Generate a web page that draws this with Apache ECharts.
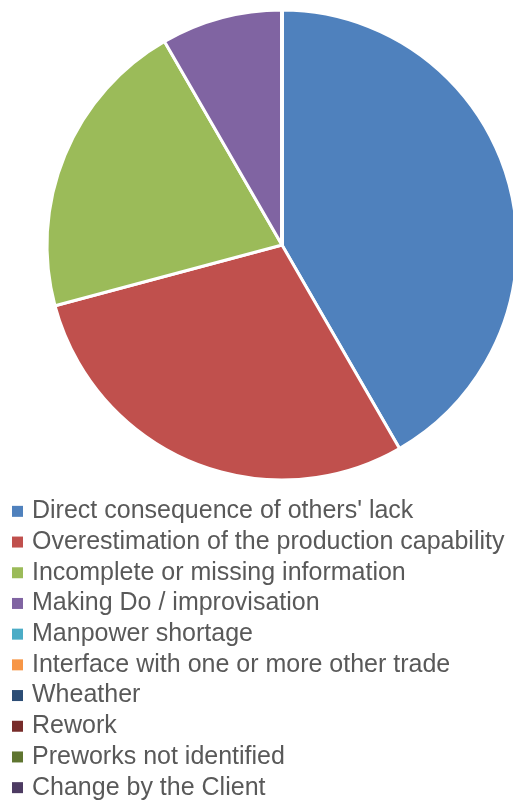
<!DOCTYPE html>
<html><head><meta charset="utf-8">
<script src="https://cdn.jsdelivr.net/npm/echarts@6/dist/echarts.min.js"></script>
<style>html,body{margin:0;padding:0;background:#fff}#c{width:513px;height:803px}</style>
</head><body><div id="c"></div>
<script>
var categories = ["Direct consequence of others' lack","Overestimation of the production capability","Incomplete or missing information","Making Do / improvisation","Manpower shortage","Interface with one or more other trade","Wheather","Rework","Preworks not identified","Change by the Client"];
var values = [10, 7, 5, 2, 0, 0, 0, 0, 0, 0];
var colors = ["#4F81BD","#C0504D","#9BBB59","#8064A2","#4BACC6","#F79646","#2C4D75","#772C2A","#5F7530","#4D3B62"];
var chart = echarts.init(document.getElementById('c'));
chart.setOption({
  animation:false,
  color: colors,
  legend:{type:'plain', orient:'vertical', left:12, top:496, padding:0, height:307, itemWidth:11, itemHeight:11, itemGap:0, icon:'rect',
    itemStyle:{borderWidth:0},
    textStyle:{fontFamily:'"Liberation Sans",Arial,sans-serif', fontSize:25, lineHeight:30.7, color:'#595959', padding:[0,0,0,4]},
    data: categories},
  series:[{type:'pie', center:[282,245], radius:[0,235], startAngle:90, clockwise:true,
    label:{show:false}, labelLine:{show:false}, silent:true,
    itemStyle:{borderColor:'#fff', borderWidth:3},
    data: categories.map(function(c,i){return {name:c, value:values[i]};})}]
});
</script></body></html>
